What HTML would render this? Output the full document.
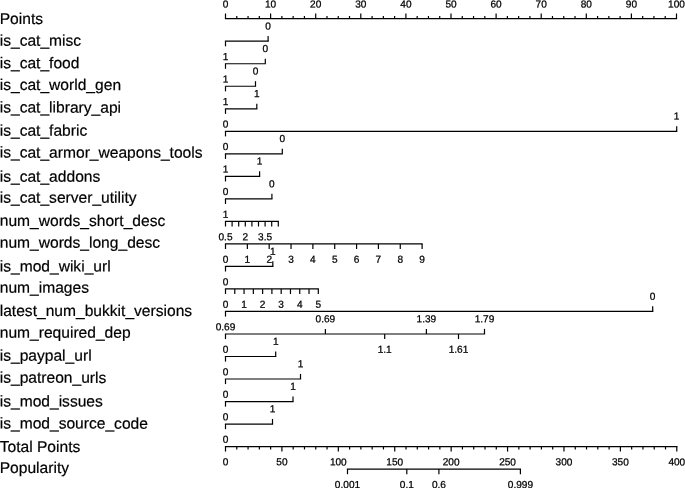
<!DOCTYPE html>
<html><head><meta charset="utf-8"><title>Nomogram</title>
<style>
html,body{margin:0;padding:0;background:#fff;}
body{width:685px;height:488px;overflow:hidden;}
svg{display:block;}
text{text-rendering:geometricPrecision;}
.l{font-family:"Liberation Sans",Arial,Helvetica,sans-serif;font-size:15.6px;fill:#000;stroke:#000;stroke-width:0.2px;}
.n{font-family:"Liberation Sans",Arial,Helvetica,sans-serif;font-size:10.1px;fill:#000;text-anchor:middle;stroke:#000;stroke-width:0.25px;}
line{stroke:#000;stroke-width:1.2;stroke-linecap:butt;}
</style></head>
<body>
<svg width="685" height="488" viewBox="0 0 685 488">
<rect width="685" height="488" fill="#fff"/>
<g>
<line x1="224.90" y1="18.70" x2="677.10" y2="18.70"/>
<line x1="225.50" y1="18.70" x2="225.50" y2="13.50"/>
<text class="n" x="225.50" y="7.60" transform="rotate(0.04 225.50 7.60)">0</text>
<line x1="236.78" y1="18.70" x2="236.78" y2="16.00"/>
<line x1="248.05" y1="18.70" x2="248.05" y2="16.00"/>
<line x1="259.32" y1="18.70" x2="259.32" y2="16.00"/>
<line x1="270.60" y1="18.70" x2="270.60" y2="13.50"/>
<text class="n" x="270.60" y="7.60" transform="rotate(0.04 270.60 7.60)">10</text>
<line x1="281.88" y1="18.70" x2="281.88" y2="16.00"/>
<line x1="293.15" y1="18.70" x2="293.15" y2="16.00"/>
<line x1="304.43" y1="18.70" x2="304.43" y2="16.00"/>
<line x1="315.70" y1="18.70" x2="315.70" y2="13.50"/>
<text class="n" x="315.70" y="7.60" transform="rotate(0.04 315.70 7.60)">20</text>
<line x1="326.98" y1="18.70" x2="326.98" y2="16.00"/>
<line x1="338.25" y1="18.70" x2="338.25" y2="16.00"/>
<line x1="349.52" y1="18.70" x2="349.52" y2="16.00"/>
<line x1="360.80" y1="18.70" x2="360.80" y2="13.50"/>
<text class="n" x="360.80" y="7.60" transform="rotate(0.04 360.80 7.60)">30</text>
<line x1="372.07" y1="18.70" x2="372.07" y2="16.00"/>
<line x1="383.35" y1="18.70" x2="383.35" y2="16.00"/>
<line x1="394.62" y1="18.70" x2="394.62" y2="16.00"/>
<line x1="405.90" y1="18.70" x2="405.90" y2="13.50"/>
<text class="n" x="405.90" y="7.60" transform="rotate(0.04 405.90 7.60)">40</text>
<line x1="417.17" y1="18.70" x2="417.17" y2="16.00"/>
<line x1="428.45" y1="18.70" x2="428.45" y2="16.00"/>
<line x1="439.73" y1="18.70" x2="439.73" y2="16.00"/>
<line x1="451.00" y1="18.70" x2="451.00" y2="13.50"/>
<text class="n" x="451.00" y="7.60" transform="rotate(0.04 451.00 7.60)">50</text>
<line x1="462.27" y1="18.70" x2="462.27" y2="16.00"/>
<line x1="473.55" y1="18.70" x2="473.55" y2="16.00"/>
<line x1="484.82" y1="18.70" x2="484.82" y2="16.00"/>
<line x1="496.10" y1="18.70" x2="496.10" y2="13.50"/>
<text class="n" x="496.10" y="7.60" transform="rotate(0.04 496.10 7.60)">60</text>
<line x1="507.38" y1="18.70" x2="507.38" y2="16.00"/>
<line x1="518.65" y1="18.70" x2="518.65" y2="16.00"/>
<line x1="529.92" y1="18.70" x2="529.92" y2="16.00"/>
<line x1="541.20" y1="18.70" x2="541.20" y2="13.50"/>
<text class="n" x="541.20" y="7.60" transform="rotate(0.04 541.20 7.60)">70</text>
<line x1="552.47" y1="18.70" x2="552.47" y2="16.00"/>
<line x1="563.75" y1="18.70" x2="563.75" y2="16.00"/>
<line x1="575.02" y1="18.70" x2="575.02" y2="16.00"/>
<line x1="586.30" y1="18.70" x2="586.30" y2="13.50"/>
<text class="n" x="586.30" y="7.60" transform="rotate(0.04 586.30 7.60)">80</text>
<line x1="597.58" y1="18.70" x2="597.58" y2="16.00"/>
<line x1="608.85" y1="18.70" x2="608.85" y2="16.00"/>
<line x1="620.12" y1="18.70" x2="620.12" y2="16.00"/>
<line x1="631.40" y1="18.70" x2="631.40" y2="13.50"/>
<text class="n" x="631.40" y="7.60" transform="rotate(0.04 631.40 7.60)">90</text>
<line x1="642.67" y1="18.70" x2="642.67" y2="16.00"/>
<line x1="653.95" y1="18.70" x2="653.95" y2="16.00"/>
<line x1="665.22" y1="18.70" x2="665.22" y2="16.00"/>
<line x1="676.50" y1="18.70" x2="676.50" y2="13.50"/>
<text class="n" x="676.50" y="7.60" transform="rotate(0.04 676.50 7.60)">100</text>
<line x1="224.90" y1="41.22" x2="268.70" y2="41.22"/>
<line x1="225.50" y1="41.22" x2="225.50" y2="46.32"/>
<text class="n" x="225.50" y="60.02" transform="rotate(0.04 225.50 60.02)">1</text>
<line x1="268.10" y1="41.22" x2="268.10" y2="36.12"/>
<text class="n" x="268.10" y="29.52" transform="rotate(0.04 268.10 29.52)">0</text>
<line x1="224.90" y1="63.74" x2="265.90" y2="63.74"/>
<line x1="225.50" y1="63.74" x2="225.50" y2="68.84"/>
<text class="n" x="225.50" y="82.54" transform="rotate(0.04 225.50 82.54)">1</text>
<line x1="265.30" y1="63.74" x2="265.30" y2="58.64"/>
<text class="n" x="265.30" y="52.04" transform="rotate(0.04 265.30 52.04)">0</text>
<line x1="224.90" y1="86.26" x2="256.10" y2="86.26"/>
<line x1="225.50" y1="86.26" x2="225.50" y2="91.36"/>
<text class="n" x="225.50" y="105.06" transform="rotate(0.04 225.50 105.06)">1</text>
<line x1="255.50" y1="86.26" x2="255.50" y2="81.16"/>
<text class="n" x="255.50" y="74.56" transform="rotate(0.04 255.50 74.56)">0</text>
<line x1="224.90" y1="108.78" x2="257.40" y2="108.78"/>
<line x1="225.50" y1="108.78" x2="225.50" y2="113.88"/>
<text class="n" x="225.50" y="127.58" transform="rotate(0.04 225.50 127.58)">0</text>
<line x1="256.80" y1="108.78" x2="256.80" y2="103.68"/>
<text class="n" x="256.80" y="97.08" transform="rotate(0.04 256.80 97.08)">1</text>
<line x1="224.90" y1="131.30" x2="677.30" y2="131.30"/>
<line x1="225.50" y1="131.30" x2="225.50" y2="136.40"/>
<text class="n" x="225.50" y="150.10" transform="rotate(0.04 225.50 150.10)">0</text>
<line x1="676.70" y1="131.30" x2="676.70" y2="126.20"/>
<text class="n" x="676.70" y="119.60" transform="rotate(0.04 676.70 119.60)">1</text>
<line x1="224.90" y1="153.82" x2="282.90" y2="153.82"/>
<line x1="225.50" y1="153.82" x2="225.50" y2="158.92"/>
<text class="n" x="225.50" y="172.62" transform="rotate(0.04 225.50 172.62)">1</text>
<line x1="282.30" y1="153.82" x2="282.30" y2="148.72"/>
<text class="n" x="282.30" y="142.12" transform="rotate(0.04 282.30 142.12)">0</text>
<line x1="224.90" y1="176.34" x2="260.20" y2="176.34"/>
<line x1="225.50" y1="176.34" x2="225.50" y2="181.44"/>
<text class="n" x="225.50" y="195.14" transform="rotate(0.04 225.50 195.14)">0</text>
<line x1="259.60" y1="176.34" x2="259.60" y2="171.24"/>
<text class="n" x="259.60" y="164.64" transform="rotate(0.04 259.60 164.64)">1</text>
<line x1="224.90" y1="198.86" x2="272.50" y2="198.86"/>
<line x1="225.50" y1="198.86" x2="225.50" y2="203.96"/>
<text class="n" x="225.50" y="217.66" transform="rotate(0.04 225.50 217.66)">1</text>
<line x1="271.90" y1="198.86" x2="271.90" y2="193.76"/>
<text class="n" x="271.90" y="187.16" transform="rotate(0.04 271.90 187.16)">0</text>
<line x1="224.90" y1="266.42" x2="273.40" y2="266.42"/>
<line x1="225.50" y1="266.42" x2="225.50" y2="271.52"/>
<text class="n" x="225.50" y="285.22" transform="rotate(0.04 225.50 285.22)">0</text>
<line x1="272.80" y1="266.42" x2="272.80" y2="261.32"/>
<text class="n" x="272.80" y="254.72" transform="rotate(0.04 272.80 254.72)">1</text>
<line x1="224.90" y1="311.46" x2="653.30" y2="311.46"/>
<line x1="225.50" y1="311.46" x2="225.50" y2="316.56"/>
<text class="n" x="225.50" y="330.26" transform="rotate(0.04 225.50 330.26)">0.69</text>
<line x1="652.70" y1="311.46" x2="652.70" y2="306.36"/>
<text class="n" x="652.70" y="299.76" transform="rotate(0.04 652.70 299.76)">0</text>
<line x1="224.90" y1="356.50" x2="276.30" y2="356.50"/>
<line x1="225.50" y1="356.50" x2="225.50" y2="361.60"/>
<text class="n" x="225.50" y="375.30" transform="rotate(0.04 225.50 375.30)">0</text>
<line x1="275.70" y1="356.50" x2="275.70" y2="351.40"/>
<text class="n" x="275.70" y="344.80" transform="rotate(0.04 275.70 344.80)">1</text>
<line x1="224.90" y1="379.02" x2="301.10" y2="379.02"/>
<line x1="225.50" y1="379.02" x2="225.50" y2="384.12"/>
<text class="n" x="225.50" y="397.82" transform="rotate(0.04 225.50 397.82)">0</text>
<line x1="300.50" y1="379.02" x2="300.50" y2="373.92"/>
<text class="n" x="300.50" y="367.32" transform="rotate(0.04 300.50 367.32)">1</text>
<line x1="224.90" y1="401.54" x2="293.60" y2="401.54"/>
<line x1="225.50" y1="401.54" x2="225.50" y2="406.64"/>
<text class="n" x="225.50" y="420.34" transform="rotate(0.04 225.50 420.34)">0</text>
<line x1="293.00" y1="401.54" x2="293.00" y2="396.44"/>
<text class="n" x="293.00" y="389.84" transform="rotate(0.04 293.00 389.84)">1</text>
<line x1="224.90" y1="424.06" x2="273.10" y2="424.06"/>
<line x1="225.50" y1="424.06" x2="225.50" y2="429.16"/>
<text class="n" x="225.50" y="442.86" transform="rotate(0.04 225.50 442.86)">0</text>
<line x1="272.50" y1="424.06" x2="272.50" y2="418.96"/>
<text class="n" x="272.50" y="412.36" transform="rotate(0.04 272.50 412.36)">1</text>
<line x1="224.90" y1="221.38" x2="278.90" y2="221.38"/>
<line x1="225.50" y1="221.38" x2="225.50" y2="226.48"/>
<text class="n" x="225.50" y="240.18" transform="rotate(0.04 225.50 240.18)">0.5</text>
<line x1="232.10" y1="221.38" x2="232.10" y2="226.48"/>
<line x1="238.70" y1="221.38" x2="238.70" y2="226.48"/>
<line x1="245.30" y1="221.38" x2="245.30" y2="226.48"/>
<text class="n" x="245.30" y="240.18" transform="rotate(0.04 245.30 240.18)">2</text>
<line x1="251.90" y1="221.38" x2="251.90" y2="226.48"/>
<line x1="258.50" y1="221.38" x2="258.50" y2="226.48"/>
<line x1="265.10" y1="221.38" x2="265.10" y2="226.48"/>
<text class="n" x="265.10" y="240.18" transform="rotate(0.04 265.10 240.18)">3.5</text>
<line x1="271.70" y1="221.38" x2="271.70" y2="226.48"/>
<line x1="278.30" y1="221.38" x2="278.30" y2="226.48"/>
<line x1="224.90" y1="243.90" x2="422.70" y2="243.90"/>
<line x1="225.50" y1="243.90" x2="225.50" y2="249.00"/>
<text class="n" x="225.50" y="262.70" transform="rotate(0.04 225.50 262.70)">0</text>
<line x1="247.34" y1="243.90" x2="247.34" y2="249.00"/>
<text class="n" x="247.34" y="262.70" transform="rotate(0.04 247.34 262.70)">1</text>
<line x1="269.19" y1="243.90" x2="269.19" y2="249.00"/>
<text class="n" x="269.19" y="262.70" transform="rotate(0.04 269.19 262.70)">2</text>
<line x1="291.03" y1="243.90" x2="291.03" y2="249.00"/>
<text class="n" x="291.03" y="262.70" transform="rotate(0.04 291.03 262.70)">3</text>
<line x1="312.88" y1="243.90" x2="312.88" y2="249.00"/>
<text class="n" x="312.88" y="262.70" transform="rotate(0.04 312.88 262.70)">4</text>
<line x1="334.72" y1="243.90" x2="334.72" y2="249.00"/>
<text class="n" x="334.72" y="262.70" transform="rotate(0.04 334.72 262.70)">5</text>
<line x1="356.57" y1="243.90" x2="356.57" y2="249.00"/>
<text class="n" x="356.57" y="262.70" transform="rotate(0.04 356.57 262.70)">6</text>
<line x1="378.41" y1="243.90" x2="378.41" y2="249.00"/>
<text class="n" x="378.41" y="262.70" transform="rotate(0.04 378.41 262.70)">7</text>
<line x1="400.26" y1="243.90" x2="400.26" y2="249.00"/>
<text class="n" x="400.26" y="262.70" transform="rotate(0.04 400.26 262.70)">8</text>
<line x1="422.10" y1="243.90" x2="422.10" y2="249.00"/>
<text class="n" x="422.10" y="262.70" transform="rotate(0.04 422.10 262.70)">9</text>
<line x1="224.90" y1="288.94" x2="318.90" y2="288.94"/>
<line x1="225.50" y1="288.94" x2="225.50" y2="294.04"/>
<text class="n" x="225.50" y="307.74" transform="rotate(0.04 225.50 307.74)">0</text>
<line x1="234.78" y1="288.94" x2="234.78" y2="294.04"/>
<line x1="244.06" y1="288.94" x2="244.06" y2="294.04"/>
<text class="n" x="244.06" y="307.74" transform="rotate(0.04 244.06 307.74)">1</text>
<line x1="253.34" y1="288.94" x2="253.34" y2="294.04"/>
<line x1="262.62" y1="288.94" x2="262.62" y2="294.04"/>
<text class="n" x="262.62" y="307.74" transform="rotate(0.04 262.62 307.74)">2</text>
<line x1="271.90" y1="288.94" x2="271.90" y2="294.04"/>
<line x1="281.18" y1="288.94" x2="281.18" y2="294.04"/>
<text class="n" x="281.18" y="307.74" transform="rotate(0.04 281.18 307.74)">3</text>
<line x1="290.46" y1="288.94" x2="290.46" y2="294.04"/>
<line x1="299.74" y1="288.94" x2="299.74" y2="294.04"/>
<text class="n" x="299.74" y="307.74" transform="rotate(0.04 299.74 307.74)">4</text>
<line x1="309.02" y1="288.94" x2="309.02" y2="294.04"/>
<line x1="318.30" y1="288.94" x2="318.30" y2="294.04"/>
<text class="n" x="318.30" y="307.74" transform="rotate(0.04 318.30 307.74)">5</text>
<line x1="224.90" y1="333.98" x2="485.10" y2="333.98"/>
<line x1="225.50" y1="333.98" x2="225.50" y2="339.08"/>
<text class="n" x="225.50" y="352.78" transform="rotate(0.04 225.50 352.78)">0</text>
<line x1="325.40" y1="333.98" x2="325.40" y2="328.88"/>
<text class="n" x="325.40" y="322.28" transform="rotate(0.04 325.40 322.28)">0.69</text>
<line x1="384.70" y1="333.98" x2="384.70" y2="339.08"/>
<text class="n" x="384.70" y="352.78" transform="rotate(0.04 384.70 352.78)">1.1</text>
<line x1="426.40" y1="333.98" x2="426.40" y2="328.88"/>
<text class="n" x="426.40" y="322.28" transform="rotate(0.04 426.40 322.28)">1.39</text>
<line x1="458.50" y1="333.98" x2="458.50" y2="339.08"/>
<text class="n" x="458.50" y="352.78" transform="rotate(0.04 458.50 352.78)">1.61</text>
<line x1="484.50" y1="333.98" x2="484.50" y2="328.88"/>
<text class="n" x="484.50" y="322.28" transform="rotate(0.04 484.50 322.28)">1.79</text>
<line x1="224.90" y1="446.58" x2="677.40" y2="446.58"/>
<line x1="225.50" y1="446.58" x2="225.50" y2="451.58"/>
<text class="n" x="225.50" y="465.38" transform="rotate(0.04 225.50 465.38)">0</text>
<line x1="236.78" y1="446.58" x2="236.78" y2="449.48"/>
<line x1="248.06" y1="446.58" x2="248.06" y2="449.48"/>
<line x1="259.35" y1="446.58" x2="259.35" y2="449.48"/>
<line x1="270.63" y1="446.58" x2="270.63" y2="449.48"/>
<line x1="281.91" y1="446.58" x2="281.91" y2="451.58"/>
<text class="n" x="281.91" y="465.38" transform="rotate(0.04 281.91 465.38)">50</text>
<line x1="293.19" y1="446.58" x2="293.19" y2="449.48"/>
<line x1="304.48" y1="446.58" x2="304.48" y2="449.48"/>
<line x1="315.76" y1="446.58" x2="315.76" y2="449.48"/>
<line x1="327.04" y1="446.58" x2="327.04" y2="449.48"/>
<line x1="338.32" y1="446.58" x2="338.32" y2="451.58"/>
<text class="n" x="338.32" y="465.38" transform="rotate(0.04 338.32 465.38)">100</text>
<line x1="349.61" y1="446.58" x2="349.61" y2="449.48"/>
<line x1="360.89" y1="446.58" x2="360.89" y2="449.48"/>
<line x1="372.17" y1="446.58" x2="372.17" y2="449.48"/>
<line x1="383.45" y1="446.58" x2="383.45" y2="449.48"/>
<line x1="394.74" y1="446.58" x2="394.74" y2="451.58"/>
<text class="n" x="394.74" y="465.38" transform="rotate(0.04 394.74 465.38)">150</text>
<line x1="406.02" y1="446.58" x2="406.02" y2="449.48"/>
<line x1="417.30" y1="446.58" x2="417.30" y2="449.48"/>
<line x1="428.59" y1="446.58" x2="428.59" y2="449.48"/>
<line x1="439.87" y1="446.58" x2="439.87" y2="449.48"/>
<line x1="451.15" y1="446.58" x2="451.15" y2="451.58"/>
<text class="n" x="451.15" y="465.38" transform="rotate(0.04 451.15 465.38)">200</text>
<line x1="462.43" y1="446.58" x2="462.43" y2="449.48"/>
<line x1="473.72" y1="446.58" x2="473.72" y2="449.48"/>
<line x1="485.00" y1="446.58" x2="485.00" y2="449.48"/>
<line x1="496.28" y1="446.58" x2="496.28" y2="449.48"/>
<line x1="507.56" y1="446.58" x2="507.56" y2="451.58"/>
<text class="n" x="507.56" y="465.38" transform="rotate(0.04 507.56 465.38)">250</text>
<line x1="518.85" y1="446.58" x2="518.85" y2="449.48"/>
<line x1="530.13" y1="446.58" x2="530.13" y2="449.48"/>
<line x1="541.41" y1="446.58" x2="541.41" y2="449.48"/>
<line x1="552.69" y1="446.58" x2="552.69" y2="449.48"/>
<line x1="563.97" y1="446.58" x2="563.97" y2="451.58"/>
<text class="n" x="563.97" y="465.38" transform="rotate(0.04 563.97 465.38)">300</text>
<line x1="575.26" y1="446.58" x2="575.26" y2="449.48"/>
<line x1="586.54" y1="446.58" x2="586.54" y2="449.48"/>
<line x1="597.82" y1="446.58" x2="597.82" y2="449.48"/>
<line x1="609.11" y1="446.58" x2="609.11" y2="449.48"/>
<line x1="620.39" y1="446.58" x2="620.39" y2="451.58"/>
<text class="n" x="620.39" y="465.38" transform="rotate(0.04 620.39 465.38)">350</text>
<line x1="631.67" y1="446.58" x2="631.67" y2="449.48"/>
<line x1="642.95" y1="446.58" x2="642.95" y2="449.48"/>
<line x1="654.24" y1="446.58" x2="654.24" y2="449.48"/>
<line x1="665.52" y1="446.58" x2="665.52" y2="449.48"/>
<line x1="676.80" y1="446.58" x2="676.80" y2="451.58"/>
<text class="n" x="676.80" y="465.38" transform="rotate(0.04 676.80 465.38)">400</text>
<line x1="346.90" y1="469.10" x2="521.00" y2="469.10"/>
<line x1="347.50" y1="469.10" x2="347.50" y2="474.20"/>
<text class="n" x="347.50" y="487.90" transform="rotate(0.04 347.50 487.90)">0.001</text>
<line x1="406.80" y1="469.10" x2="406.80" y2="474.20"/>
<text class="n" x="406.80" y="487.90" transform="rotate(0.04 406.80 487.90)">0.1</text>
<line x1="438.90" y1="469.10" x2="438.90" y2="474.20"/>
<text class="n" x="438.90" y="487.90" transform="rotate(0.04 438.90 487.90)">0.6</text>
<line x1="520.40" y1="469.10" x2="520.40" y2="474.20"/>
<text class="n" x="520.40" y="487.90" transform="rotate(0.04 520.40 487.90)">0.999</text>
</g>
<g>
<text class="l" x="-0.30" y="24.00" transform="rotate(0.04 -0.30 24.00)">Points</text>
<text class="l" x="-0.30" y="45.72" transform="rotate(0.04 -0.30 45.72)">is_cat_misc</text>
<text class="l" x="-0.30" y="68.24" transform="rotate(0.04 -0.30 68.24)">is_cat_food</text>
<text class="l" x="-0.30" y="90.06" transform="rotate(0.04 -0.30 90.06)">is_cat_world_gen</text>
<text class="l" x="-0.30" y="112.58" transform="rotate(0.04 -0.30 112.58)">is_cat_library_api</text>
<text class="l" x="-0.30" y="135.80" transform="rotate(0.04 -0.30 135.80)">is_cat_fabric</text>
<text class="l" x="-0.30" y="157.62" transform="rotate(0.04 -0.30 157.62)">is_cat_armor_weapons_tools</text>
<text class="l" x="-0.30" y="181.64" transform="rotate(0.04 -0.30 181.64)">is_cat_addons</text>
<text class="l" x="-0.30" y="202.66" transform="rotate(0.04 -0.30 202.66)">is_cat_server_utility</text>
<text class="l" x="-0.30" y="225.88" transform="rotate(0.04 -0.30 225.88)">num_words_short_desc</text>
<text class="l" x="-0.30" y="247.70" transform="rotate(0.04 -0.30 247.70)">num_words_long_desc</text>
<text class="l" x="-0.30" y="271.42" transform="rotate(0.04 -0.30 271.42)">is_mod_wiki_url</text>
<text class="l" x="-0.30" y="292.74" transform="rotate(0.04 -0.30 292.74)">num_images</text>
<text class="l" x="-0.30" y="315.96" transform="rotate(0.04 -0.30 315.96)">latest_num_bukkit_versions</text>
<text class="l" x="-0.30" y="337.78" transform="rotate(0.04 -0.30 337.78)">num_required_dep</text>
<text class="l" x="-0.30" y="360.80" transform="rotate(0.04 -0.30 360.80)">is_paypal_url</text>
<text class="l" x="-0.30" y="382.82" transform="rotate(0.04 -0.30 382.82)">is_patreon_urls</text>
<text class="l" x="-0.30" y="406.54" transform="rotate(0.04 -0.30 406.54)">is_mod_issues</text>
<text class="l" x="-0.30" y="428.56" transform="rotate(0.04 -0.30 428.56)">is_mod_source_code</text>
<text class="l" x="-0.30" y="451.88" transform="rotate(0.04 -0.30 451.88)">Total Points</text>
<text class="l" x="-0.30" y="472.90" transform="rotate(0.04 -0.30 472.90)">Popularity</text>
</g>
</svg>
</body></html>
